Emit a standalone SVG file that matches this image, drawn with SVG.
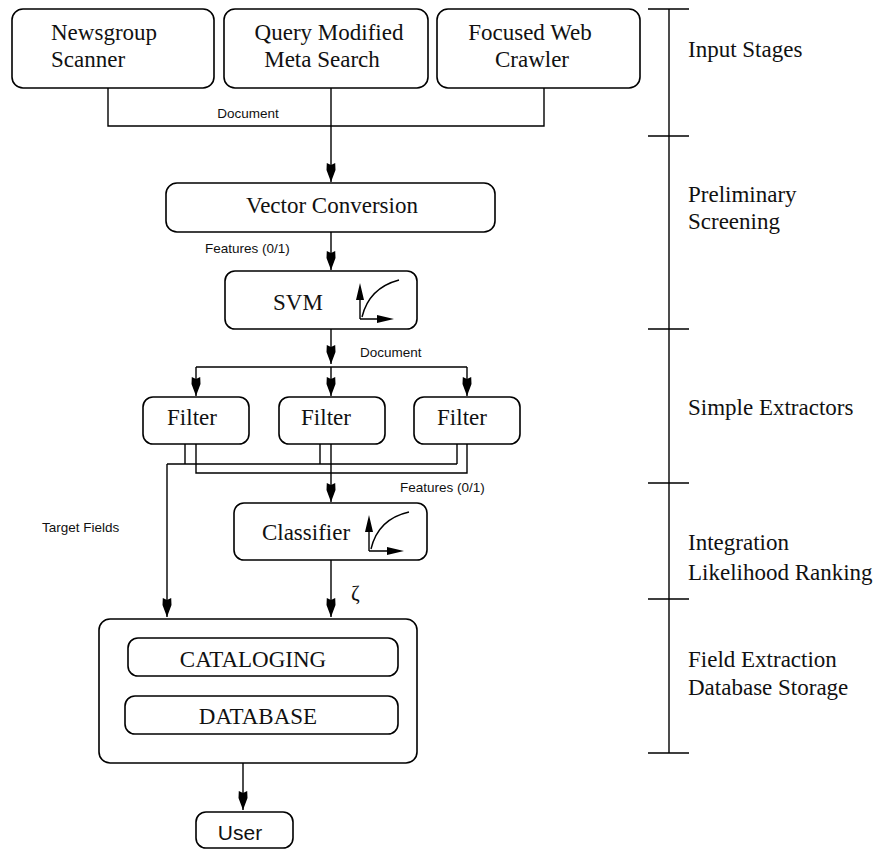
<svg xmlns="http://www.w3.org/2000/svg" width="878" height="853" viewBox="0 0 878 853">
<style>
.box{fill:#fff;stroke:#000;stroke-width:1.6}
.ln{fill:none;stroke:#000;stroke-width:1.4}
.t{font-family:"Liberation Serif","Times New Roman",serif;font-size:23px;fill:#111}
.s{font-family:"Liberation Sans",Arial,sans-serif;font-size:13.5px;fill:#111}
.u{font-family:"Liberation Sans",Arial,sans-serif;font-size:21px;fill:#111}
.c{text-anchor:middle}
</style>
<defs>
<marker id="ah" markerUnits="userSpaceOnUse" viewBox="-20 -6 20 12" refX="0" refY="0" markerWidth="20" markerHeight="12" orient="auto">
<path d="M0,0 L-12,-4.5 L-19,-4.2 L-17,0 L-19,4.2 L-12,4.5 Z" fill="#000"/>
</marker>
</defs>
<rect width="878" height="853" fill="#fff"/>

<g id="connectors">
<path class="ln" d="M108,88 V126 H544 V88"/>
<path class="ln" d="M331,88 V182" marker-end="url(#ah)"/>
<path class="ln" d="M331,232 V270" marker-end="url(#ah)"/>
<path class="ln" d="M331,329 V364" marker-end="url(#ah)"/>
<path class="ln" d="M196,367 H467"/>
<path class="ln" d="M196,367 V396" marker-end="url(#ah)"/>
<path class="ln" d="M331,367 V396" marker-end="url(#ah)"/>
<path class="ln" d="M467,367 V396" marker-end="url(#ah)"/>
<path class="ln" d="M185,444 V464 M320,444 V464 M457,444 V464 M167,464 H457"/>
<path class="ln" d="M196,444 V473 H467 V444"/>
<path class="ln" d="M331,444 V502" marker-end="url(#ah)"/>
<path class="ln" d="M167,464 V617" marker-end="url(#ah)"/>
<path class="ln" d="M331,560 V617" marker-end="url(#ah)"/>
<path class="ln" d="M243,763 V810" marker-end="url(#ah)"/>
<text class="s c" x="248" y="118">Document</text>
<text class="s" x="205" y="253">Features (0/1)</text>
<text class="s" x="360" y="357">Document</text>
<text class="s" x="400" y="492">Features (0/1)</text>
<text class="s" x="42" y="532">Target Fields</text>
<text class="t" x="351" y="600" style="font-size:21px">ζ</text>
</g>

<g id="newsgroup">
<rect class="box" x="12" y="9" width="202" height="79" rx="11"/>
<text class="t" x="51" y="40">Newsgroup</text>
<text class="t" x="51" y="67">Scanner</text>
</g>
<g id="query">
<rect class="box" x="224" y="9" width="204" height="79" rx="11"/>
<text class="t c" x="329" y="40">Query Modified</text>
<text class="t c" x="322" y="67">Meta Search</text>
</g>
<g id="crawler">
<rect class="box" x="437" y="9" width="203" height="79" rx="11"/>
<text class="t c" x="530" y="40">Focused Web</text>
<text class="t c" x="532" y="67">Crawler</text>
</g>

<g id="vector">
<rect class="box" x="166" y="183" width="329" height="49" rx="11"/>
<text class="t c" x="332" y="213">Vector Conversion</text>
</g>

<g id="svm">
<rect class="box" x="225" y="271" width="192" height="58" rx="10"/>
<text class="t c" x="298" y="310">SVM</text>
<path class="ln" d="M360,319 V290 M360,319 H380"/>
<path d="M360,283 L356,300 L364,300 Z M394,319 L377,315 L377,323 Z" fill="#000"/>
<path class="ln" d="M362,317 Q369,288 399,280"/>
</g>

<g id="filter1">
<rect class="box" x="143" y="397" width="106" height="47" rx="10"/>
<text class="t c" x="192" y="425">Filter</text>
</g>
<g id="filter2">
<rect class="box" x="279" y="397" width="106" height="47" rx="10"/>
<text class="t c" x="326" y="425">Filter</text>
</g>
<g id="filter3">
<rect class="box" x="414" y="397" width="106" height="47" rx="10"/>
<text class="t c" x="462" y="425">Filter</text>
</g>

<g id="classifier">
<rect class="box" x="234" y="503" width="193" height="57" rx="10"/>
<text class="t c" x="306" y="540">Classifier</text>
<path class="ln" d="M369,551 V522 M369,551 H390"/>
<path d="M369,515 L365,532 L373,532 Z M404,551 L387,547 L387,555 Z" fill="#000"/>
<path class="ln" d="M371,549 Q378,519 409,512"/>
</g>

<g id="storage">
<rect class="box" x="99" y="619" width="318" height="144" rx="11"/>
<g id="cataloging">
<rect class="box" x="128" y="638" width="270" height="38" rx="10"/>
<text class="t c" x="253" y="667">CATALOGING</text>
</g>
<g id="database">
<rect class="box" x="125" y="696" width="273" height="38" rx="10"/>
<text class="t c" x="258" y="724">DATABASE</text>
</g>
</g>

<g id="user">
<rect class="box" x="196" y="812" width="97" height="36" rx="10"/>
<text class="u c" x="240" y="840">User</text>
</g>

<g id="scale">
<path class="ln" d="M669,9 V753 M648,9 H689 M648,136 H689 M648,329 H689 M648,483 H689 M648,599 H689 M648,753 H689"/>
<text class="t" x="688" y="57">Input Stages</text>
<text class="t" x="688" y="202">Preliminary</text>
<text class="t" x="688" y="229">Screening</text>
<text class="t" x="688" y="415">Simple Extractors</text>
<text class="t" x="688" y="550">Integration</text>
<text class="t" x="688" y="580">Likelihood Ranking</text>
<text class="t" x="688" y="667">Field Extraction</text>
<text class="t" x="688" y="695">Database Storage</text>
</g>
</svg>
